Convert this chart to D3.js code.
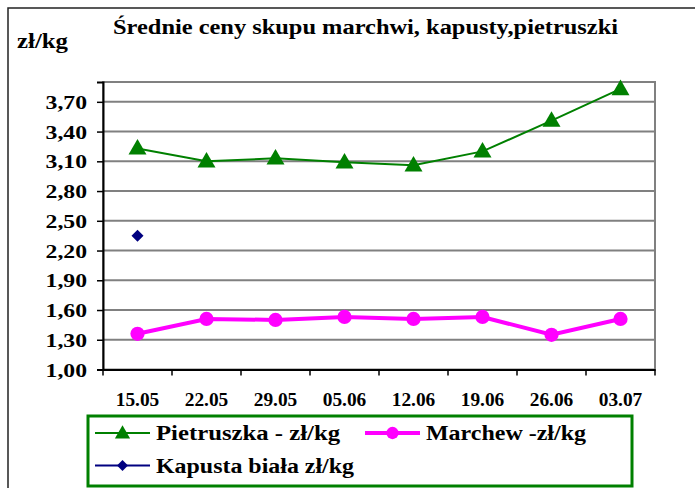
<!DOCTYPE html>
<html>
<head>
<meta charset="utf-8">
<script src="https://cdn.jsdelivr.net/npm/d3@7"></script>
<style>
  body { margin: 0; background: #fff; }
  text { font-family: "Liberation Serif", "Times New Roman", serif; font-weight: bold; fill: #000; }
</style>
</head>
<body>
<svg width="695" height="488"></svg>
<script>
const dates = ["15.05", "22.05", "29.05", "05.06", "12.06", "19.06", "26.06", "03.07"];
const pietruszka = [3.23, 3.10, 3.13, 3.09, 3.06, 3.20, 3.51, 3.83];
const marchew = [1.36, 1.51, 1.50, 1.53, 1.51, 1.53, 1.35, 1.51];
const kapusta = [2.35, null, null, null, null, null, null, null];
const yTicks = [1.00, 1.30, 1.60, 1.90, 2.20, 2.50, 2.80, 3.10, 3.40, 3.70];

const svg = d3.select("svg");
const plotL = 103, plotR = 655, plotT = 82, plotB = 369.5;

const x = d3.scaleBand().domain(dates).range([plotL, plotR]);
const y = d3.scaleLinear().domain([1.0, 3.9]).range([plotB, plotT]);
const cx = d => x(d) + x.bandwidth() / 2;

// stretch text horizontally (source picture is wider than normal Times)
function stretch(sel, k) {
  sel.each(function () {
    const w = this.getComputedTextLength();
    d3.select(this).attr("textLength", w * k).attr("lengthAdjust", "spacingAndGlyphs");
  });
}

// outer frame (runs off the right and bottom edges)
svg.append("path")
  .attr("d", "M8,700 L8,8 L700,8")
  .attr("fill", "none").attr("stroke", "#222").attr("stroke-width", 1.5);

svg.append("text")
  .attr("x", 113).attr("y", 34)
  .attr("font-size", 20)
  .attr("textLength", 505).attr("lengthAdjust", "spacingAndGlyphs")
  .text("Średnie ceny skupu marchwi, kapusty,pietruszki");

svg.append("text")
  .attr("x", 17).attr("y", 48)
  .attr("font-size", 20)
  .attr("textLength", 51).attr("lengthAdjust", "spacingAndGlyphs")
  .text("zł/kg");

// plot frame + grid
svg.append("rect")
  .attr("x", plotL).attr("y", plotT).attr("width", plotR - plotL).attr("height", plotB - plotT)
  .attr("fill", "#fff").attr("stroke", "#808080").attr("stroke-width", 2);

svg.append("g").selectAll("line").data(yTicks.slice(1)).join("line")
  .attr("x1", plotL).attr("x2", plotR)
  .attr("y1", d => y(d)).attr("y2", d => y(d))
  .attr("stroke", "#808080").attr("stroke-width", 2);

// y axis
const yAxis = svg.append("g").attr("transform", `translate(${plotL},0)`)
  .call(d3.axisLeft(y).tickValues(yTicks).tickSize(6).tickPadding(10)
    .tickFormat(d => d3.format(".2f")(d).replace(".", ",")));
yAxis.select(".domain").attr("stroke", "#000").attr("stroke-width", 2);
yAxis.selectAll(".tick line").attr("stroke", "#000").attr("stroke-width", 1.5);
yAxis.selectAll("text").attr("font-size", 18.5).attr("font-family", null).attr("dy", "0.36em");
stretch(yAxis.selectAll("text"), 1.28);

// x axis, ticks at band edges
const xAxis = svg.append("g").attr("transform", `translate(0,${plotB})`)
  .call(d3.axisBottom(x).tickSize(0).tickPadding(23));
xAxis.select(".domain").attr("stroke", "#000").attr("stroke-width", 2);
xAxis.selectAll("text").attr("font-size", 19).attr("font-family", null);
stretch(xAxis.selectAll("text"), 1.02);
xAxis.append("g").selectAll("line").data(d3.range(dates.length + 1)).join("line")
  .attr("x1", i => plotL + i * x.bandwidth()).attr("x2", i => plotL + i * x.bandwidth())
  .attr("y1", 0).attr("y2", 6).attr("stroke", "#000").attr("stroke-width", 1.5);

// series
const line = d3.line().defined(d => d[1] != null).x(d => cx(d[0])).y(d => y(d[1]));
const pairs = vals => dates.map((d, i) => [d, vals[i]]);

svg.append("path").datum(pairs(pietruszka)).attr("d", line)
  .attr("fill", "none").attr("stroke", "#008000").attr("stroke-width", 2);
svg.append("path").datum(pairs(marchew)).attr("d", line)
  .attr("fill", "none").attr("stroke", "#ff00ff").attr("stroke-width", 4);

const tri = d3.symbol().type(d3.symbolTriangle).size(140);
const circ = d3.symbol().type(d3.symbolCircle).size(160);
const diam = d3.symbol().type(d3.symbolSquare).size(72);

svg.append("g").selectAll("path").data(pairs(pietruszka)).join("path")
  .attr("d", tri).attr("transform", d => `translate(${cx(d[0])},${y(d[1]) + 1})`)
  .attr("fill", "#008000");
svg.append("g").selectAll("path").data(pairs(marchew)).join("path")
  .attr("d", circ).attr("transform", d => `translate(${cx(d[0])},${y(d[1])})`)
  .attr("fill", "#ff00ff");
svg.append("g").selectAll("path").data(pairs(kapusta).filter(d => d[1] != null)).join("path")
  .attr("d", diam).attr("transform", d => `translate(${cx(d[0])},${y(d[1])}) rotate(45)`)
  .attr("fill", "#000080");

// legend
const legend = svg.append("g");
legend.append("rect")
  .attr("x", 88).attr("y", 416).attr("width", 544).attr("height", 70)
  .attr("fill", "#fff").attr("stroke", "#008000").attr("stroke-width", 3);

const legendItems = [
  { name: "Pietruszka - zł/kg", color: "#008000", sym: tri, size: 100, w: 2, lx: 95, ly: 433, tw: 184 },
  { name: "Marchew -zł/kg", color: "#ff00ff", sym: circ, size: 120, w: 4, lx: 365, ly: 433, tw: 160 },
  { name: "Kapusta biała zł/kg", color: "#000080", sym: diam, size: 60, w: 2, lx: 95, ly: 465.5, tw: 198 }
];
const li = legend.selectAll("g.item").data(legendItems).join("g").attr("class", "item")
  .attr("transform", d => `translate(${d.lx},${d.ly})`);
li.append("line").attr("x1", 0).attr("x2", 55)
  .attr("stroke", d => d.color).attr("stroke-width", d => d.w);
li.append("path").attr("d", d => d.sym.size(d.size)())
  .attr("transform", d => d.sym === tri ? "translate(27.5,1)" : d.sym === diam ? "translate(27.5,0) rotate(45)" : "translate(27.5,0)")
  .attr("fill", d => d.color);
li.append("text").attr("x", 61).attr("dy", "0.35em").attr("font-size", 20)
  .attr("textLength", d => d.tw).attr("lengthAdjust", "spacingAndGlyphs")
  .text(d => d.name);
</script>
</body>
</html>
